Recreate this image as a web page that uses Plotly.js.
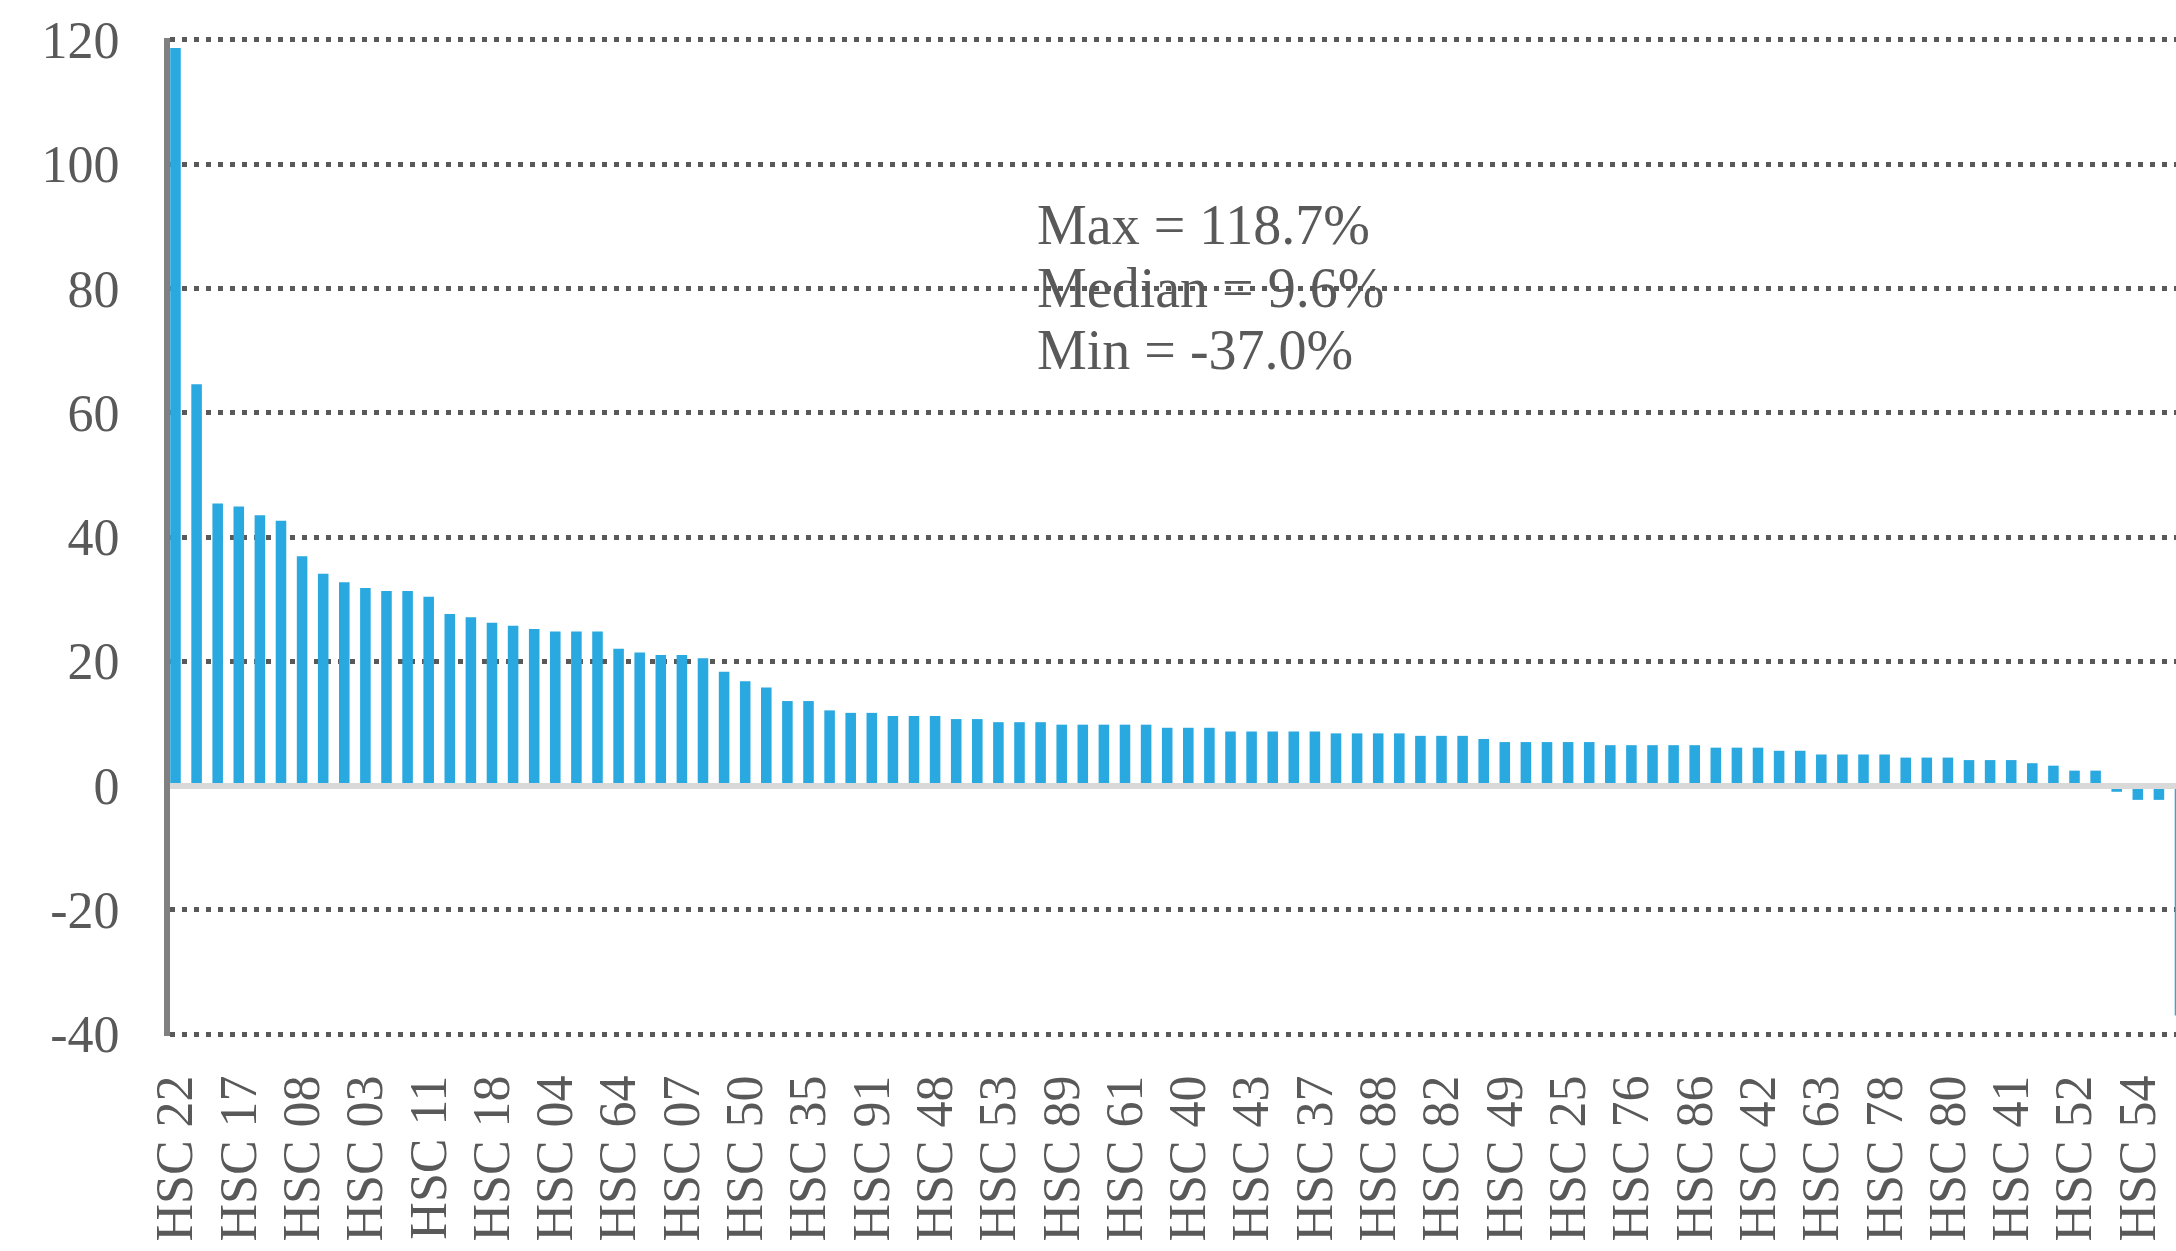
<!DOCTYPE html>
<html>
<head>
<meta charset="utf-8">
<script src="https://cdn.plot.ly/plotly-3.0.1.min.js"></script>
<style>
  html, body { margin: 0; padding: 0; background: #ffffff; }
  #chart { width: 2176px; height: 1251px; }
</style>
</head>
<body>
<div id="chart"></div>
<script>
// Tick labels shown on the axis (every third bar is labelled in the original)
const tickLabels = ['HSC 22','HSC 17','HSC 08','HSC 03','HSC 11','HSC 18','HSC 04','HSC 64',
  'HSC 07','HSC 50','HSC 35','HSC 91','HSC 48','HSC 53','HSC 89','HSC 61','HSC 40','HSC 43',
  'HSC 37','HSC 88','HSC 82','HSC 49','HSC 25','HSC 76','HSC 86','HSC 42','HSC 63','HSC 78',
  'HSC 80','HSC 41','HSC 52','HSC 54'];
const labelStep = 3;

// Bar values (%), in display order
const values = [
  118.7, 64.6, 45.4, 44.9, 43.5, 42.6, 36.9, 34.1, 32.7, 31.8,
  31.3, 31.3, 30.4, 27.6, 27.1, 26.2, 25.7, 25.2, 24.8, 24.8,
  24.8, 22.0, 21.4, 21.0, 21.0, 20.5, 18.3, 16.8, 15.8, 13.6,
  13.6, 12.1, 11.7, 11.7, 11.2, 11.2, 11.2, 10.7, 10.7, 10.2,
  10.2, 10.2, 9.8, 9.8, 9.8, 9.8, 9.8, 9.3, 9.3, 9.3,
  8.7, 8.7, 8.7, 8.7, 8.7, 8.4, 8.4, 8.4, 8.4, 8.0,
  8.0, 8.0, 7.5, 7.0, 7.0, 7.0, 7.0, 7.0, 6.5, 6.5,
  6.5, 6.5, 6.5, 6.1, 6.1, 6.1, 5.6, 5.6, 5.0, 5.0,
  5.0, 5.0, 4.5, 4.5, 4.5, 4.1, 4.1, 4.1, 3.6, 3.2,
  2.4, 2.4, -1.0, -2.3, -2.3, -37.0
];

// Summary text lines
const statLines = ['Max = 118.7%', 'Median = 9.6%', 'Min = -37.0%'];
const statY = [90.2, 80.0, 70.1];

const yTicks = [-40, -20, 0, 20, 40, 60, 80, 100, 120];
const yTickText = yTicks.map(v => String(v));

const xIdx = values.map((v, i) => i);
const tickVals = tickLabels.map((l, i) => i * labelStep);

const textColor = '#595959';
const serif = 'Liberation Serif, Georgia, serif';

const trace = {
  type: 'bar',
  x: xIdx,
  y: values,
  width: 0.5,
  marker: { color: '#29a9e0', line: { width: 0 } },
  hoverinfo: 'skip'
};

const annotations = statLines.map((t, i) => ({
  text: t,
  xref: 'paper', yref: 'y',
  x: 0.431, y: statY[i],
  xanchor: 'left', yanchor: 'middle',
  showarrow: false,
  font: { family: serif, size: 56, color: textColor }
}));

const layout = {
  width: 2176, height: 1251,
  margin: { l: 170, r: 0, t: 38, b: 215, pad: 0 },
  paper_bgcolor: '#ffffff', plot_bgcolor: '#ffffff',
  showlegend: false,
  xaxis: {
    range: [-0.26, 94.81],
    showgrid: false, zeroline: false, showline: false,
    tickmode: 'array', tickvals: tickVals, ticktext: tickLabels,
    tickangle: -90, ticks: '',
    ticklabelstandoff: 28,
    tickfont: { family: serif, size: 52, color: textColor }
  },
  yaxis: {
    range: [-40.3, 120.3],
    tickmode: 'array', tickvals: yTicks, ticktext: yTickText,
    showgrid: true, gridcolor: '#595959', gridwidth: 5, griddash: '5px,7px',
    zeroline: true, zerolinecolor: '#d9d9d9', zerolinewidth: 6,
    zerolinelayer: 'above traces',
    showline: true, linecolor: '#808080', linewidth: 6,
    ticks: '', ticklabelstandoff: 34,
    tickfont: { family: serif, size: 52, color: textColor }
  },
  annotations: annotations
};

Plotly.newPlot('chart', [trace], layout, { displayModeBar: false, staticPlot: true });
</script>
</body>
</html>
